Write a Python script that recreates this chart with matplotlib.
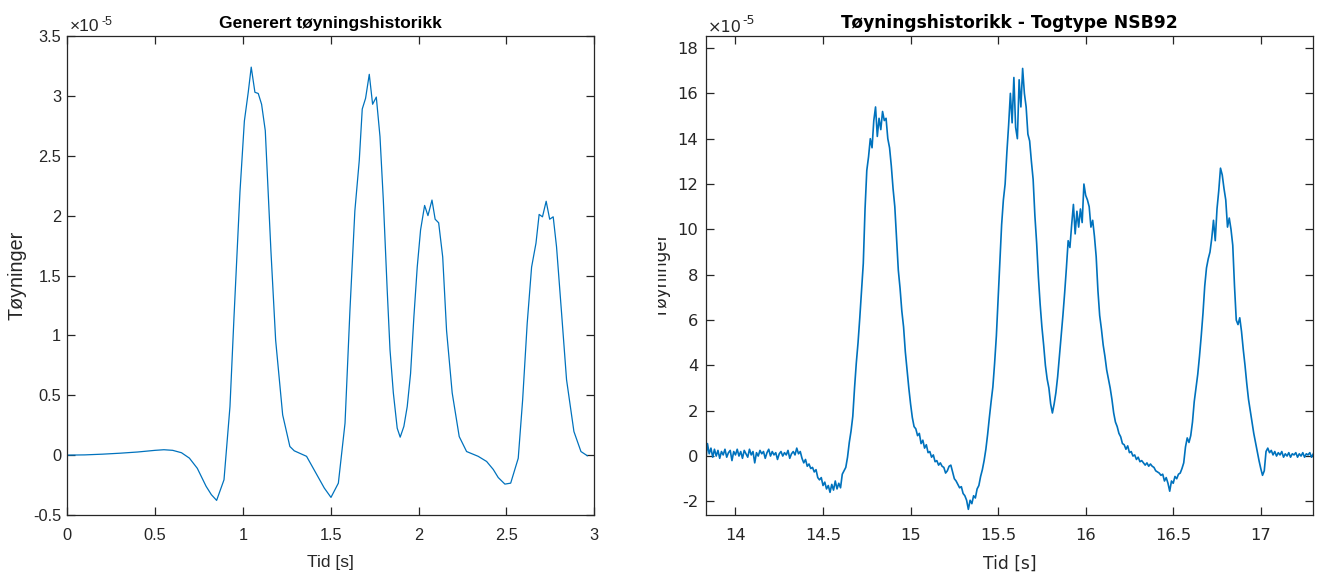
import numpy as np
import matplotlib
matplotlib.use("Agg")
import matplotlib.pyplot as plt
from matplotlib.ticker import FuncFormatter, MultipleLocator
from matplotlib.transforms import Bbox, TransformedBbox, offset_copy

# ---------------- data (strain in units of 1e-5) ----------------
gen_time = [0.0, 0.1, 0.2, 0.3, 0.4, 0.5, 0.55, 0.6, 0.65, 0.695, 0.74, 0.79, 0.82, 0.85,
            0.892, 0.926, 0.949, 0.983, 1.008, 1.03, 1.047, 1.068, 1.087, 1.106, 1.127,
            1.159, 1.186, 1.226, 1.267, 1.292, 1.362, 1.41, 1.463, 1.501, 1.543, 1.581,
            1.609, 1.637, 1.662, 1.679, 1.698, 1.719, 1.738, 1.759, 1.78, 1.799, 1.821,
            1.837, 1.856, 1.878, 1.895, 1.916, 1.935, 1.954, 1.973, 1.992, 2.011, 2.034,
            2.053, 2.076, 2.094, 2.114, 2.137, 2.159, 2.191, 2.231, 2.273, 2.339, 2.387,
            2.425, 2.453, 2.491, 2.524, 2.567, 2.592, 2.618, 2.643, 2.668, 2.686, 2.705,
            2.726, 2.746, 2.766, 2.785, 2.814, 2.842, 2.884, 2.924, 2.96]
gen_strain = [0.0, 0.002, 0.008, 0.016, 0.026, 0.04, 0.045, 0.04, 0.02, -0.025, -0.11, -0.26,
              -0.33, -0.378, -0.206, 0.405, 1.155, 2.2, 2.79, 3.03, 3.24, 3.03, 3.02, 2.93,
              2.71, 1.71, 0.96, 0.336, 0.072, 0.036, -0.01, -0.136, -0.275, -0.353, -0.234,
              0.267, 1.21, 2.04, 2.46, 2.89, 2.98, 3.18, 2.93, 2.99, 2.66, 2.13, 1.38, 0.88,
              0.52, 0.225, 0.15, 0.24, 0.405, 0.68, 1.155, 1.57, 1.88, 2.085, 2.0, 2.13, 1.97,
              1.94, 1.655, 1.04, 0.52, 0.155, 0.03, -0.01, -0.053, -0.12, -0.187, -0.242,
              -0.234, -0.026, 0.46, 1.1, 1.57, 1.77, 2.01, 1.99, 2.12, 1.97, 1.99, 1.74, 1.18,
              0.63, 0.197, 0.03, -0.005]

meas_t0 = 13.83
meas_dt = 0.01
meas_strain = [
    -0.25, 0.55, 0.10, 0.35, -0.05, 0.30, 0.00, 0.25, -0.10, 0.20,
    0.05, 0.30, -0.05, 0.15, 0.25, -0.20, 0.20, 0.05, 0.30, 0.00,
    0.20, -0.10, 0.25, 0.10, -0.05, 0.30, 0.05, 0.20, -0.30, 0.15,
    0.00, 0.25, 0.10, 0.20, -0.10, 0.15, 0.30, 0.00, 0.20, 0.05,
    0.15, -0.15, 0.10, 0.20, 0.00, 0.15, 0.05, 0.25, -0.10, 0.10,
    0.20, 0.05, 0.35, 0.10, 0.20, -0.10, -0.30, -0.15, -0.45, -0.35,
    -0.55, -0.50, -0.70, -0.60, -0.95, -1.05, -0.95, -1.30, -1.15, -1.45,
    -1.30, -1.60, -1.25, -1.50, -1.10, -1.45, -1.20, -1.40, -0.80, -0.65,
    -0.50, -0.05, 0.60, 1.10, 1.75, 3.00, 4.10, 5.00, 6.10, 7.30,
    8.50, 10.90, 12.60, 13.20, 14.00, 13.60, 14.80, 15.40, 14.10, 14.90,
    14.40, 15.20, 14.80, 14.90, 14.00, 13.60, 12.80, 11.80, 11.00, 9.60,
    8.20, 7.40, 6.40, 5.70, 4.60, 3.80, 3.00, 2.30, 1.70, 1.30,
    1.20, 0.90, 1.00, 0.55, 0.70, 0.35, 0.50, 0.15, 0.20, -0.05,
    0.05, -0.25, -0.20, -0.40, -0.30, -0.45, -0.50, -0.75, -0.65, -0.45,
    -0.40, -0.70, -1.00, -1.10, -1.25, -1.40, -1.35, -1.65, -1.75, -1.95,
    -2.35, -1.95, -2.10, -1.75, -1.85, -1.45, -1.30, -0.90, -0.60, -0.20,
    0.30, 0.95, 1.70, 2.40, 3.05, 4.10, 5.30, 6.90, 8.50, 10.20,
    11.30, 12.00, 13.40, 14.60, 16.00, 14.70, 16.70, 14.50, 14.00, 16.60,
    15.40, 17.10, 16.00, 15.40, 14.20, 13.90, 13.00, 12.20, 10.60, 9.40,
    7.90, 6.70, 5.70, 4.90, 4.00, 3.40, 3.00, 2.30, 1.90, 2.30,
    2.80, 3.50, 4.40, 5.30, 6.20, 7.20, 8.30, 9.50, 9.20, 10.20,
    11.10, 9.80, 10.80, 10.10, 10.90, 10.30, 12.00, 11.50, 11.30, 11.00,
    10.10, 10.40, 9.70, 8.80, 7.30, 6.20, 5.60, 4.90, 4.40, 3.80,
    3.40, 3.00, 2.50, 1.90, 1.50, 1.30, 1.00, 0.85, 0.55, 0.50,
    0.30, 0.45, 0.15, 0.20, 0.00, 0.05, -0.15, -0.05, -0.25, -0.20,
    -0.30, -0.40, -0.30, -0.45, -0.35, -0.45, -0.50, -0.65, -0.70, -0.75,
    -0.85, -0.80, -1.10, -0.95, -1.20, -1.55, -1.10, -1.20, -0.90, -1.00,
    -0.80, -0.75, -0.55, -0.30, 0.40, 0.80, 0.60, 0.90, 1.50, 2.40,
    3.00, 3.60, 4.40, 5.30, 6.30, 7.50, 8.30, 8.70, 9.00, 9.60,
    10.40, 9.50, 10.90, 11.70, 12.70, 12.40, 11.80, 11.30, 10.10, 10.50,
    10.00, 9.30, 7.50, 6.00, 5.80, 6.10, 5.50, 4.70, 4.00, 3.20,
    2.50, 2.00, 1.50, 1.00, 0.60, 0.20, -0.20, -0.55, -0.85, -0.65,
    0.20, 0.35, 0.15, 0.25, 0.05, 0.20, 0.00, 0.15, 0.05, 0.20,
    -0.05, 0.10, 0.00, 0.15, -0.05, 0.10, 0.05, 0.15, -0.05, 0.10,
    0.00, 0.15, -0.05, 0.10, 0.05, 0.15, -0.05, 0.10,
]
meas_time = meas_t0 + meas_dt * np.arange(len(meas_strain))

left_title = "Generert tøyningshistorikk"
right_title = "Tøyningshistorikk - Togtype NSB92"
x_label = "Tid [s]"
y_label = "Tøyninger"

# ---------------- style ----------------
plt.rcParams["font.family"] = ["Liberation Sans", "DejaVu Sans"]
plt.rcParams["axes.unicode_minus"] = False
AX = "#262626"
LINE = "#0072BD"

W, H = 1317, 574
fig = plt.figure(figsize=(W / 100, H / 100), dpi=100)
fig.patch.set_facecolor("white")


def frac(x0, y0, x1, y1):
    return [x0 / W, 1 - y1 / H, (x1 - x0) / W, (y1 - y0) / H]


ax1 = fig.add_axes(frac(67.3, 36, 594.3, 515))
ax2 = fig.add_axes(frac(705.7, 36, 1313.3, 515))

fmt = FuncFormatter(lambda v, p: "%g" % round(v, 6))

# per-panel text settings (right panel text is wider in the reference)
cfg = {
    ax1: dict(fam=["Liberation Sans", "DejaVu Sans"], tick=11.8, xlab=12.5, ylab=14.2,
              title=12.5, ypad=4.5, exp_x=2.0, exp_y=5.3, sup_x=33.7, sup_y=11.0,
              exp_fs=12.5, sup_fs=9.0),
    ax2: dict(fam=["DejaVu Sans"], tick=11.8, xlab=12.3, ylab=12.2,
              title=12.3, ypad=5.5, exp_x=1.7, exp_y=4.5, sup_x=36.3, sup_y=12.0,
              exp_fs=11.6, sup_fs=9.0),
}

for ax, c in cfg.items():
    for s in ax.spines.values():
        s.set_color(AX)
        s.set_linewidth(0.9)
    ax.tick_params(direction="in", top=True, right=True, length=6, width=0.9,
                   colors=AX, labelsize=c["tick"], labelcolor=AX,
                   labelfontfamily=c["fam"][0])
    ax.tick_params(axis="x", pad=9)
    ax.tick_params(axis="y", pad=c["ypad"])
    ax.xaxis.set_major_formatter(fmt)
    ax.yaxis.set_major_formatter(fmt)
    ax.set_xlabel(x_label, fontsize=c["xlab"], color=AX, va="top", family=c["fam"])
    ax.xaxis.set_label_coords(0.5, -(555 - 515) / 479)
    tr = offset_copy(ax.transAxes, fig=fig, x=c["exp_x"], y=c["exp_y"], units="dots")
    ax.text(0, 1, "\u00d710", transform=tr, fontsize=c["exp_fs"], color=AX,
            ha="left", va="baseline", family=c["fam"])
    tr2 = offset_copy(ax.transAxes, fig=fig, x=c["sup_x"], y=c["sup_y"], units="dots")
    ax.text(0, 1, "-5", transform=tr2, fontsize=c["sup_fs"], color=AX,
            ha="left", va="baseline", family=c["fam"])

ax1.plot(gen_time, gen_strain, color=LINE, lw=0.9)
ax1.set_xlim(0, 3)
ax1.set_ylim(-0.5, 3.5)
ax1.xaxis.set_major_locator(MultipleLocator(0.5))
ax1.yaxis.set_major_locator(MultipleLocator(0.5))
ax1.set_title(left_title, fontsize=cfg[ax1]["title"], fontweight="bold", color="black",
              pad=5.8, family=cfg[ax1]["fam"])
ax1.set_ylabel(y_label, fontsize=cfg[ax1]["ylab"], color=AX, family=cfg[ax1]["fam"])
ax1.yaxis.set_label_coords((27 - 67.3) / 527, 0.5)

ax2.plot(meas_time, meas_strain, color=LINE, lw=1.2)
ax2.set_xlim(13.83, 17.30)
ax2.set_ylim(-2.6, 18.53)
ax2.xaxis.set_major_locator(MultipleLocator(0.5))
ax2.yaxis.set_major_locator(MultipleLocator(2))
ax2.set_title(right_title, fontsize=cfg[ax2]["title"], fontweight="bold", color="black",
              pad=5.8, family=cfg[ax2]["fam"])
lab = ax2.set_ylabel(y_label, fontsize=cfg[ax2]["ylab"], color=AX, family=cfg[ax2]["fam"])
ax2.yaxis.set_label_coords((671 - 705.7) / 607.6, 0.5)
lab.set_clip_box(TransformedBbox(Bbox.from_extents(658 / W, 0, 1, 1), fig.transFigure))
lab.set_clip_on(True)

fig.savefig("out.png", dpi=100, facecolor="white")
